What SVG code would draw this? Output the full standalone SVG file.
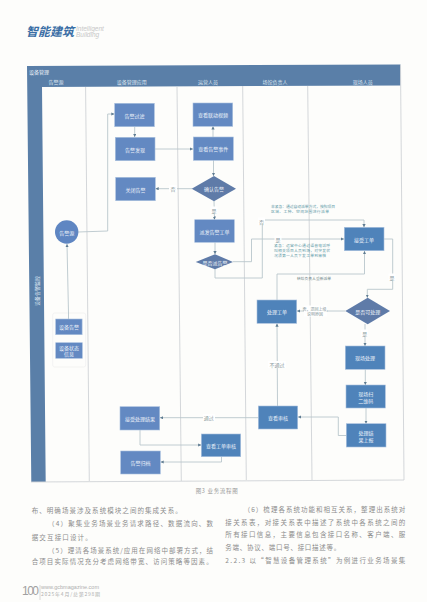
<svg xmlns="http://www.w3.org/2000/svg" width="427" height="602" viewBox="0 0 427 602">
<style>
text{font-family:"Noto Sans CJK SC","Liberation Sans",sans-serif}
.n{fill:#6389c2;stroke:#a9c0de;stroke-width:.6}
.b{fill:#4f83ba;stroke:#a9c0de;stroke-width:.6}
.d{fill:#5f7ba8}
.t{fill:#eef3fa;font-size:5px;text-anchor:middle;dominant-baseline:central}
.h{fill:#dfe8f2;font-size:5px;text-anchor:middle;dominant-baseline:central}
.lane{fill:none;stroke:#cfd3d6;stroke-width:.9}
.c{fill:none;stroke:#b9c6cc;stroke-width:.9}
.a{fill:none;stroke:#b9c6cc;stroke-width:.9;marker-end:url(#arr)}
.l{fill:#8a9a9c;font-size:5px;text-anchor:middle;dominant-baseline:central}
.note{fill:#5f9aa8;font-size:3.8px}
.body{fill:#8c8c8c;font-size:6.5px}
.bg{fill:#fff;stroke:none}
</style>
<defs>
<marker id="arr" markerWidth="4" markerHeight="4" refX="3.2" refY="1.6" orient="auto" markerUnits="userSpaceOnUse"><path d="M0 0L3.2 1.6L0 3.2z" fill="#5f7c92"/></marker>
</defs>
<rect width="427" height="602" fill="#fdfdfb"/>
<g id="masthead">
<text x="26" y="36" font-size="12" font-weight="700" font-style="italic" fill="#3a6ea5">智能建筑</text>
<text x="76" y="31" font-size="6.5" font-style="italic" fill="#c8c8c8" style="font-family:'Liberation Sans',sans-serif">Intelligent</text>
<text x="76" y="37" font-size="6.5" font-style="italic" fill="#c8c8c8" style="font-family:'Liberation Sans',sans-serif">Building</text>
</g>
<g id="frame">
<polygon points="27,66 400.5,64.5 400.5,85.5 42,87 45.7,482 31.3,482" fill="#5a7fa8"/>
<path class="lane" d="M85.6 87L89.3 481M177 87L181.3 481M242.7 86L246.3 480M307.7 86L312 480M400.5 65L404 480M31 482L404 480"/>
<text x="29" y="71.7" fill="#eef3fa" font-size="5" dominant-baseline="central">设备管理</text>
<text class="h" x="56" y="81.7">告警源</text>
<text class="h" x="131.7" y="81.7">设备管理应用</text>
<text class="h" x="208" y="81.7">运营人员</text>
<text class="h" x="275" y="81.7">场馆负责人</text>
<text class="h" x="362.7" y="81.7">现场人员</text>
<text class="h" transform="translate(36.3 291) rotate(-90)" x="0" y="0">设备告警监控</text>
</g>
<rect x="52.7" y="313" width="33" height="54" rx="2" fill="none" stroke="#f0f0f0" stroke-width=".8"/>
<g id="connectors">
<path class="a" d="M78 232L107.7 231L107.7 114L114.5 114"/>
<path class="a" d="M134.7 127V137"/>
<path class="a" d="M155 149H193"/>
<path class="a" d="M213 137V126.3"/>
<path class="a" d="M213.5 160V176"/>
<path class="a" d="M192 188.7H155.5"/>
<path class="a" d="M214 201L214.5 219.7"/>
<path class="a" d="M215 242.3V254.3"/>
<path class="a" d="M233 261.7H251.5V239H344"/>
<path class="a" d="M215 269V278H262.3V220H364V227.2"/>
<path class="a" d="M384 239H392.7V289.3H367.3V297.7"/>
<path class="a" d="M345.3 311H297"/>
<path class="a" d="M365 324V346"/>
<path class="a" d="M365.3 369.3V385"/>
<path class="a" d="M366 408V423.7"/>
<path class="a" d="M346.3 435.5H338.3V417H298"/>
<path class="a" d="M277.5 406L277 323.5"/>
<path class="a" d="M277 300V274H364.5V250.9"/>
<path class="a" d="M258.3 417.7H160"/>
<path class="a" d="M140 430V445H201.3"/>
<path class="a" d="M221.5 456.7V462H160.5"/>
<path class="a" d="M68.5 319V313L67 244"/>
<rect class="bg" x="169" y="185" width="8" height="7"/><text class="l" x="173" y="188.5">否</text>
<rect class="bg" x="210.5" y="206.5" width="7" height="7"/><text class="l" x="214" y="210">是</text>
<rect class="bg" x="274.5" y="235.5" width="7" height="7"/><text class="l" x="278" y="239">是</text>
<rect class="bg" x="258" y="217.5" width="7" height="7"/><text class="l" x="261.5" y="221">否</text>
<rect class="bg" x="388.5" y="273.5" width="7" height="7"/><text class="l" x="392" y="277">是</text>
<rect class="bg" x="361" y="329.5" width="7" height="7"/><text class="l" x="364.7" y="333">是</text>
<rect class="bg" x="268" y="361" width="18" height="7"/><text class="l" x="277" y="364.5">不通过</text>
<rect class="bg" x="203" y="414" width="12" height="7"/><text class="l" x="208.7" y="417.7">通过</text>
<rect class="bg" x="304" y="305.5" width="23" height="11"/>
<text class="l" x="315" y="308.5" style="font-size:4px">否，退回上级,</text>
<text class="l" x="315" y="314" style="font-size:4px">说明原因</text>
<text class="l" x="314" y="278.7" style="font-size:3.8px;fill:#6f8488">转给负责人重新派单</text>
<text class="note" x="271" y="208" textLength="64">非紧急：通过自动派单方式，按照项目</text>
<text class="note" x="271" y="213" textLength="58">区域、工种、空间范围进行派单</text>
<text class="note" x="274" y="247" textLength="56">紧急：运营中心通过语音电话呼</text>
<text class="note" x="274" y="252" textLength="56">叫相关项目人员到场，对突发状</text>
<text class="note" x="274" y="257" textLength="52">况须第一人员下发工单到审核</text>
</g>
<g id="n-source"><circle cx="66.7" cy="232" r="11.7" fill="#5f86c2"/><text class="t" x="66.7" y="232">告警源</text></g>
<g id="n-devalarm"><rect class="n" x="55.7" y="319" width="26.4" height="15.7"/><text class="t" x="69" y="326.8">设备告警</text></g>
<g id="n-devstate"><rect class="n" x="55.7" y="342.7" width="26.6" height="15.6"/><text class="t" x="69" y="347.5">设备状态</text><text class="t" x="69" y="353.8">信息</text></g>
<g id="n-filter"><rect class="n" x="114.7" y="103.3" width="39.6" height="23.4"/><text class="t" x="134.5" y="115">告警过滤</text></g>
<g id="n-discover"><rect class="n" x="115.3" y="137.3" width="39.7" height="23.4"/><text class="t" x="135" y="149">告警发现</text></g>
<g id="n-close"><rect class="n" x="115.7" y="177.3" width="39.6" height="23.4"/><text class="t" x="135.5" y="189">关闭告警</text></g>
<g id="n-video"><rect class="n" x="193" y="103" width="39.7" height="23.3"/><text class="t" x="213" y="114.7">查看联动视频</text></g>
<g id="n-event"><rect class="n" x="193.3" y="137" width="40" height="23.3"/><text class="t" x="213.3" y="148.7">查看告警事件</text></g>
<g id="n-confirm"><polygon class="d" points="191.7,188.7 214,176 236,188.7 214,201.3"/><text class="t" x="214" y="188.7">确认告警</text></g>
<g id="n-dispatch"><rect class="n" x="194.7" y="219.7" width="39.6" height="22.6"/><text class="t" x="214.5" y="231">派发告警工单</text></g>
<g id="n-isdispatch"><polygon class="d" points="195.7,262 215,254.3 233,262 215,269.3"/><text class="t" x="215" y="262">是否派告警</text></g>
<g id="n-receive"><rect class="b" x="344.3" y="227.3" width="39.7" height="23.4"/><text class="t" x="364" y="239">接受工单</text></g>
<g id="n-handle"><rect class="b" x="257" y="300" width="39.7" height="23.3"/><text class="t" x="277" y="311.7">处理工单</text></g>
<g id="n-canhandle"><polygon class="d" points="345.3,311 367.7,297.7 390,311 367.7,324.3"/><text class="t" x="367.7" y="311">是否可处理</text></g>
<g id="n-onsite"><rect class="b" x="345.3" y="346" width="39.7" height="23.3"/><text class="t" x="365" y="357.7">现场处理</text></g>
<g id="n-scan"><rect class="b" x="346" y="385" width="39.3" height="23"/><text class="t" x="365.7" y="393">现场扫</text><text class="t" x="365.7" y="400">二维码</text></g>
<g id="n-report"><rect class="b" x="346.3" y="423.7" width="39.7" height="23.3"/><text class="t" x="366" y="432">处理结</text><text class="t" x="366" y="439">果上报</text></g>
<g id="n-review"><rect class="b" x="258.3" y="406" width="39.4" height="23"/><text class="t" x="278" y="417.5">查看审核</text></g>
<g id="n-orderreview"><rect class="b" x="201.3" y="434" width="39.4" height="22.7"/><text class="t" x="221" y="445.3">查看工单审核</text></g>
<g id="n-result"><rect class="n" x="120" y="406.7" width="39.7" height="23.3"/><text class="t" x="140" y="418.3">接受处理结果</text></g>
<g id="n-archive"><rect class="n" x="120.7" y="451" width="39.6" height="23"/><text class="t" x="140.5" y="462.5">告警归档</text></g>
<g id="page-text">
<text x="195.7" y="492.5" fill="#999" font-size="5.5" textLength="42">图3 业务流程图</text>
<text class="body" x="31.7" y="513" textLength="150">布、明确场景涉及系统模块之间的集成关系。</text>
<text class="body" x="48" y="526" textLength="165">（4）聚集业务场景业务请求路径、数据流向、数</text>
<text class="body" x="31.7" y="540" textLength="60">据交互接口设计。</text>
<text class="body" x="48" y="552.5" textLength="165">（5）理清各场景系统/应用在网络中部署方式，结</text>
<text class="body" x="31.7" y="564" textLength="181">合项目实际情况充分考虑网络带宽、访问策略等因素。</text>
<text class="body" x="243.7" y="511.5" textLength="161.5">（6）梳理各系统功能和相互关系，整理出系统对</text>
<text class="body" x="225.3" y="524.5" textLength="180">接关系表，对接关系表中描述了系统中各系统之间的</text>
<text class="body" x="225.3" y="537" textLength="180">所有接口信息，主要信息包含接口名称、客户端、服</text>
<text class="body" x="225.3" y="550" textLength="115">务端、协议、端口号、接口描述等。</text>
<text class="body" x="225.3" y="563" textLength="180">2.2.3  以“智慧设备管理系统”为例进行业务场景集</text>
</g>
<g id="footer">
<text x="22" y="595" font-size="12" fill="#a0a0a0" textLength="17" style="font-family:'Liberation Sans',sans-serif">100</text>
<path d="M40 585V600" stroke="#c4c4c4" stroke-width=".6"/>
<text x="41" y="589" font-size="5.5" fill="#b0b0b0" textLength="58" style="font-family:'Liberation Sans',sans-serif">www.gcbmagazine.com</text>
<text x="41" y="596" font-size="5" fill="#b0b0b0" textLength="59">2025年4月/总第298期</text>
</g>
</svg>
